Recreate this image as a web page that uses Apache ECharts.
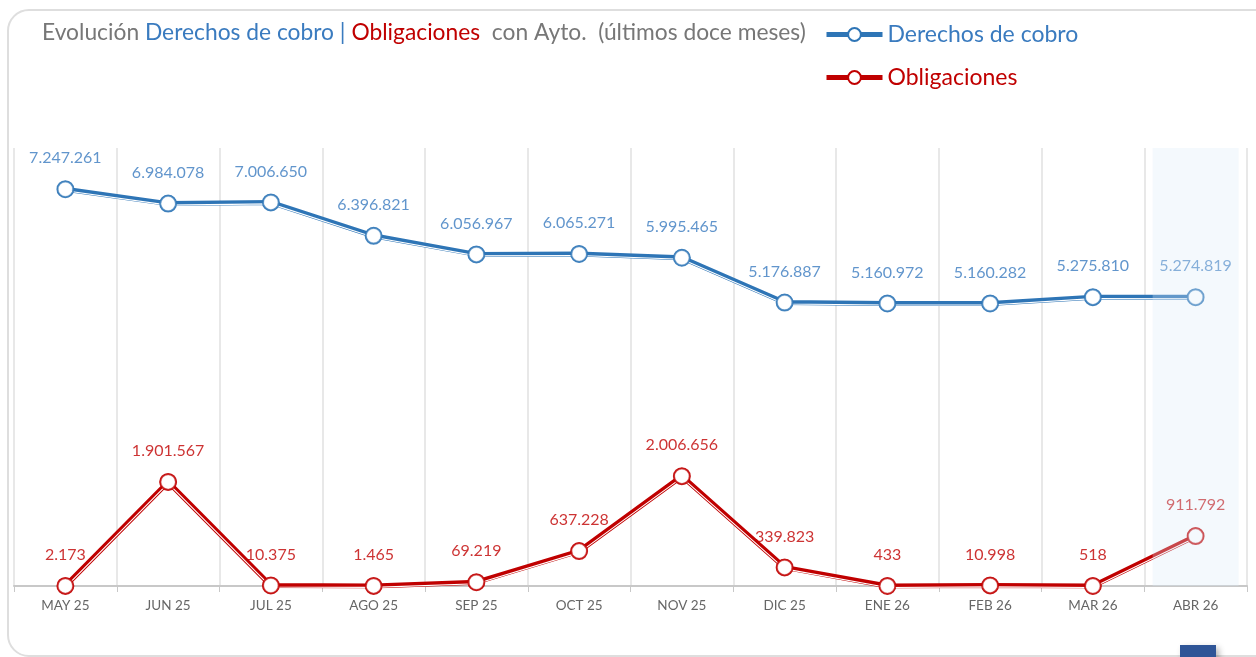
<!DOCTYPE html>
<html>
<head>
<meta charset="utf-8">
<script src="https://cdn.jsdelivr.net/npm/echarts@6/dist/echarts.min.js"></script>
<style>
  html, body { margin: 0; padding: 0; background: #fff; overflow: hidden; }
  .card {
    position: absolute; left: 7px; top: 9px; width: 1280px; height: 648px;
    border: 2px solid #dedede; border-radius: 22px; box-sizing: border-box;
  }
  .btn {
    position: absolute; left: 1180px; top: 645px; width: 36px; height: 20px;
    background: #2f5597; box-shadow: 3px 3px 6px rgba(0,0,0,0.3);
  }
  #chart { position: absolute; left: 0; top: 0; width: 1256px; height: 657px; }
</style>
</head>
<body>
<div class="card"></div>
<div id="chart"></div>
<div class="btn"></div>
<script>
const months = ['MAY 25', 'JUN 25', 'JUL 25', 'AGO 25', 'SEP 25', 'OCT 25', 'NOV 25', 'DIC 25', 'ENE 26', 'FEB 26', 'MAR 26', 'ABR 26']
const derechos = [7247261, 6984078, 7006650, 6396821, 6056967, 6065271, 5995465, 5176887, 5160972, 5160282, 5275810, 5274819]
const obligaciones = [2173, 1901567, 10375, 1465, 69219, 637228, 2006656, 339823, 433, 10998, 518, 911792]
const yMax = 8000000

const BLUE = '#2e75b6'
const BLUE_TXT = '#3a7bbf'
const RED = '#c00000'
const FONT = 'Lato'

const fmt = v => String( v ).replace( /\B(?=(\d{3})+(?!\d))/g, '.' )

const chart = echarts.init( document.getElementById( 'chart' ) )

// thick coloured line, drawn first
const mainLine = ( name, data, color ) => ( {
  name,
  type : 'line',
  data,
  z : 2,
  symbol : 'emptyCircle',
  symbolSize : 15,
  itemStyle : { color, borderWidth : 2 },
  lineStyle : { color, width : 5 },
  emphasis : { disabled : true }
} )

// thin white line shifted down a bit, gives the double-line look
const whiteLine = data => ( {
  type : 'line',
  data,
  xAxisIndex : 1,
  yAxisIndex : 1,
  z : 3,
  silent : true,
  symbol : 'none',
  lineStyle : { color : '#ffffff', width : 1.1 },
  emphasis : { disabled : true }
} )

// markers and labels on top
const marks = ( data, color, labelColor ) => ( {
  type : 'scatter',
  data,
  z : 4,
  silent : true,
  symbol : 'circle',
  symbolSize : 16,
  itemStyle : { color : '#fff', borderColor : color, borderWidth : 2 },
  label : {
    show : true,
    position : 'top',
    distance : 14,
    color : labelColor,
    fontFamily : FONT,
    fontSize : 16,
    formatter : p => fmt( p.value )
  }
} )

const shade = months.map( ( m, i ) => i === months.length - 1 ? yMax : null )

chart.setOption( {
  animation : false,
  title : {
    left : 37,
    top : 16,
    text : '{g|Evolución }{b|Derechos de cobro | }{r|Obligaciones}{g|  con Ayto.  (últimos doce meses)}',
    textStyle : {
      fontWeight : 'normal',
      rich : {
        g : { color : '#777777', fontSize : 22.8, fontFamily : FONT },
        b : { color : BLUE_TXT, fontSize : 22.8, fontFamily : FONT },
        r : { color : RED, fontSize : 22.8, fontFamily : FONT }
      }
    }
  },
  legend : {
    orient : 'vertical',
    left : 819,
    top : 18,
    itemGap : 20,
    itemWidth : 56,
    itemHeight : 16,
    selectedMode : false,
    lineStyle : { width : 5 },
    textStyle : { fontFamily : FONT, fontSize : 23 },
    data : [
      { name : 'Derechos de cobro', textStyle : { color : BLUE_TXT } },
      { name : 'Obligaciones', textStyle : { color : RED } }
    ]
  },
  grid : [
    { left : 14, right : 9, top : 148, bottom : 71 },
    { left : 14, right : 9, top : 149.5, bottom : 69.5 }
  ],
  xAxis : [
    {
      type : 'category',
      data : months,
      boundaryGap : true,
      axisLine : { lineStyle : { color : '#c8c8c8', width : 2 } },
      axisTick : { show : true, length : 6, lineStyle : { color : '#c8c8c8' } },
      axisLabel : { color : '#666666', fontFamily : FONT, fontSize : 13.5, margin : 13 },
      splitLine : { show : true, lineStyle : { color : '#e0e0e0', width : 1.5 } }
    },
    { type : 'category', data : months, gridIndex : 1, show : false }
  ],
  yAxis : [
    { type : 'value', min : 0, max : yMax, show : false, splitLine : { show : false } },
    { type : 'value', min : 0, max : yMax, gridIndex : 1, show : false, splitLine : { show : false } }
  ],
  series : [
    mainLine( 'Derechos de cobro', derechos, BLUE ),
    mainLine( 'Obligaciones', obligaciones, RED ),
    whiteLine( derechos ),
    whiteLine( obligaciones ),
    marks( derechos, BLUE, BLUE_TXT ),
    marks( obligaciones, RED, RED ),
    {
      type : 'bar',
      data : shade,
      barWidth : 86,
      z : 10,
      silent : true,
      itemStyle : { color : 'rgba(220,235,248,0.3)' }
    }
  ]
} )
</script>
</body>
</html>
